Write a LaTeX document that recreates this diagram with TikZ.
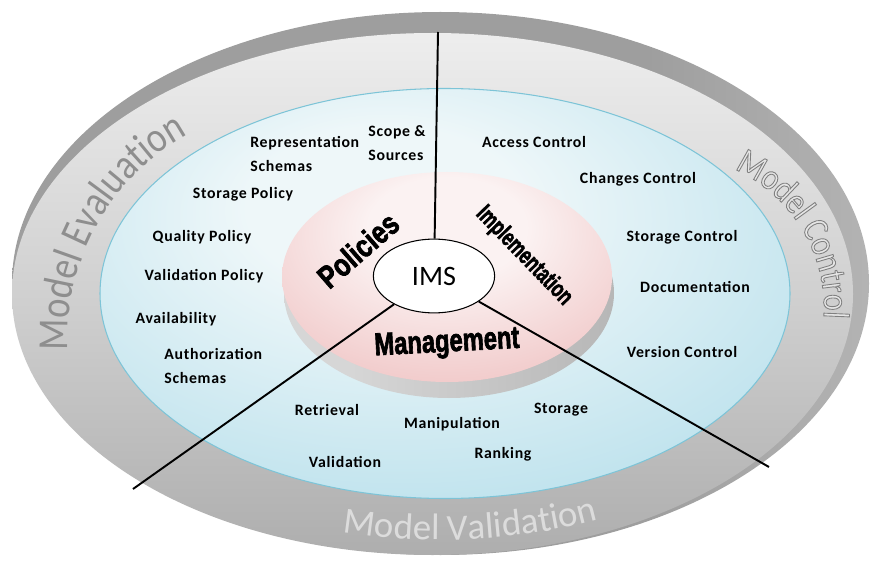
\documentclass[tikz,border=0pt]{standalone}
\usepackage{fontspec}
\setmainfont{Carlito}
\newfontfamily\ringfont{Carlito}[LetterSpace=4.5]
\newfontfamily\arcfont{Carlito}[FakeStretch=0.85]
\newfontfamily\heavyfont{Liberation Sans}[UprightFont=* Bold, FakeBold=2.5]
\usetikzlibrary{shapes.geometric,decorations.text}

\definecolor{rimA}{HTML}{9E9E9E}
\definecolor{rimB}{HTML}{DCDCDC}
\definecolor{surfA}{HTML}{FDFDFD}
\definecolor{surfB}{HTML}{D0D0D0}
\definecolor{surfC}{HTML}{9C9C9C}
\definecolor{blueA}{HTML}{EEF7F9}
\definecolor{blueB}{HTML}{C2E4EE}
\definecolor{blueC}{HTML}{9BD1E1}
\definecolor{blueedge}{HTML}{7DC4D7}
\definecolor{pinkA}{HTML}{FBF2F2}
\definecolor{pinkB}{HTML}{F0C6C6}
\definecolor{pinkC}{HTML}{E8AEAE}
\definecolor{shadowA}{HTML}{D6D6D6}
\definecolor{shadowB}{HTML}{A3A3A3}
\definecolor{evalgray}{HTML}{8E8E8E}
\definecolor{ctrlgray}{HTML}{E6E6E6}
\definecolor{validgray}{HTML}{DCDCDC}

\pgfdeclarehorizontalshading{rimshade}{100bp}{color(0bp)=(rimA); color(62bp)=(rimA); color(100bp)=(rimB)}
\pgfdeclareverticalshading{surfshade}{100bp}{color(0bp)=(surfC); color(12bp)=(surfC); color(50bp)=(surfB); color(88bp)=(surfA); color(100bp)=(surfA)}
\pgfdeclareradialshading{blueglow}{\pgfpoint{-5bp}{12bp}}{color(0bp)=(blueA); color(10bp)=(blueA); color(32bp)=(blueB); color(52bp)=(blueC); color(75bp)=(blueC)}
\pgfdeclareradialshading{pinkglow}{\pgfpoint{0bp}{14bp}}{color(0bp)=(pinkA); color(12bp)=(pinkA); color(36bp)=(pinkB); color(54bp)=(pinkC); color(75bp)=(pinkC)}
\pgfdeclarehorizontalshading{shadowshade}{100bp}{color(0bp)=(shadowA); color(35bp)=(shadowA); color(100bp)=(shadowB)}

\tikzset{
  ringtext/.style={inner sep=0pt, align=left, font=\ringfont\bfseries\fontsize{9}{13.6}\selectfont},
  sectortext/.style={inner sep=0pt},
  spoke/.style={line width=1.1pt},
}

\begin{document}
\begin{tikzpicture}[x=0.02cm,y=-0.02cm]
\useasboundingbox (0,0) rectangle (872,564);
\path[shading=rimshade] (440.5,283.5) ellipse [x radius=428.5, y radius=271.5];
\path[shading=surfshade] (432.5,294) ellipse [x radius=420.5, y radius=261];
\path[shading=blueglow, draw=blueedge, line width=0.6pt] (445,293.5) ellipse [x radius=345, y radius=205];
\path[shading=shadowshade] (449,293) ellipse [x radius=165, y radius=105];
\path[shading=pinkglow] (447,277) ellipse [x radius=165, y radius=105];

\path[decorate, decoration={text along path, text align=center, text color=evalgray,
  text={|\arcfont\fontsize{24.4}{26}\selectfont|Model Evaluation}}]
  (300,338) ++(168:232) arc [start angle=168, end angle=250, radius=232];
\path[decorate, decoration={text along path, text align=center, text color=ctrlgray,
  text={|\arcfont\fontsize{21}{22}\selectfont\special{pdf:literal direct 2 Tr 0.5 w 0.5 G}|Model Control}}]
  (672,308) ++(-82:152) arc [start angle=-82, end angle=20, radius=152];
\special{pdf:literal direct 0 Tr}
\path[decorate, decoration={text along path, text align=center, text color=validgray,
  text={|\fontsize{21}{22}\selectfont|Model Validation}}]
  (440,290) ++(120:400 and 250) arc [start angle=120, end angle=50, x radius=400, y radius=250];

\node[draw, ellipse, fill=white, line width=0.6pt, minimum width=69pt, minimum height=42pt, inner sep=0pt,
  font=\fontsize{16}{16}\selectfont] (ims) at (434,276) {IMS};
\coordinate (ctop) at (438,32);
\coordinate (cleft) at (133,489);
\coordinate (cright) at (769,467);
\draw[spoke] (ims) -- (ctop);
\draw[spoke] (ims) -- (cleft);
\draw[spoke] (ims) -- (cright);

\node[sectortext, rotate=41, font=\heavyfont\fontsize{18}{18}\selectfont] (pol) at (358,250) {\scalebox{0.8}[1]{Policies}};
\node[sectortext, rotate=-46, font=\heavyfont\fontsize{14}{14}\selectfont] (impl) at (524,256) {\scalebox{0.7}[1]{Implementation}};
\node[sectortext, rotate=3, font=\heavyfont\fontsize{18}{18}\selectfont] (mgmt) at (447,344) {\scalebox{0.75}[1]{Management}};

\node[ringtext, anchor=west] (rep) at (250,154) {Representation\\Schemas};
\node[ringtext, anchor=west] (scope) at (368,143) {Scope \&\\Sources};
\node[ringtext] (stpol) at (243,194) {Storage Policy};
\node[ringtext] (qual) at (202,237) {Quality Policy};
\node[ringtext] (valpol) at (204,276) {Validation Policy};
\node[ringtext] (avail) at (176,319) {Availability};
\node[ringtext, anchor=west] (auth) at (164,366) {Authorization\\Schemas};
\node[ringtext] (retr) at (327,410) {Retrieval};
\node[ringtext] (valid) at (345,462) {Validation};
\node[ringtext] (manip) at (452,424) {Manipulation};
\node[ringtext] (stor) at (561,410) {Storage};
\node[ringtext] (rank) at (503,454) {Ranking};
\node[ringtext] (access) at (534,142) {Access Control};
\node[ringtext] (change) at (638,179) {Changes Control};
\node[ringtext] (stctl) at (682,237) {Storage Control};
\node[ringtext] (docu) at (695,287) {Documentation};
\node[ringtext] (vers) at (682,352) {Version Control};
\end{tikzpicture}
\end{document}
